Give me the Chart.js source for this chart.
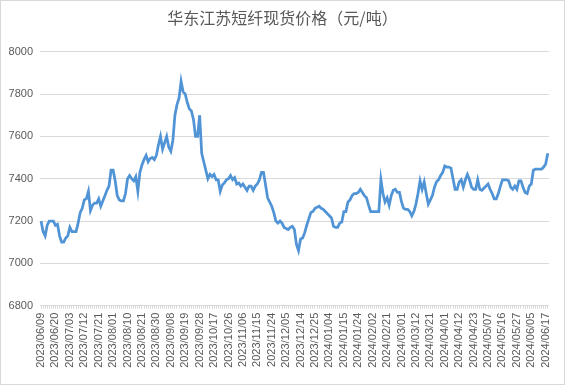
<!DOCTYPE html>
<html>
<head>
<meta charset="utf-8">
<script src="https://cdn.jsdelivr.net/npm/chart.js@4/dist/chart.umd.min.js"></script>
<style>
  html, body { margin: 0; padding: 0; background: #ffffff; }
  canvas { display: block; }
</style>
</head>
<body>
<canvas id="c" width="565" height="385"></canvas>
<script>
// Trading days (category labels)
const dates = [
  "2023/06/09","2023/06/12","2023/06/13","2023/06/14","2023/06/15","2023/06/16","2023/06/19","2023/06/20","2023/06/21","2023/06/26",
  "2023/06/27","2023/06/28","2023/06/29","2023/06/30","2023/07/03","2023/07/04","2023/07/05","2023/07/06","2023/07/07","2023/07/10",
  "2023/07/11","2023/07/12","2023/07/13","2023/07/14","2023/07/17","2023/07/18","2023/07/19","2023/07/20","2023/07/21","2023/07/24",
  "2023/07/25","2023/07/26","2023/07/27","2023/07/28","2023/07/31","2023/08/01","2023/08/02","2023/08/03","2023/08/04","2023/08/07",
  "2023/08/08","2023/08/09","2023/08/10","2023/08/11","2023/08/14","2023/08/15","2023/08/16","2023/08/17","2023/08/18","2023/08/21",
  "2023/08/22","2023/08/23","2023/08/24","2023/08/25","2023/08/28","2023/08/29","2023/08/30","2023/08/31","2023/09/01","2023/09/04",
  "2023/09/05","2023/09/06","2023/09/07","2023/09/08","2023/09/11","2023/09/12","2023/09/13","2023/09/14","2023/09/15","2023/09/18",
  "2023/09/19","2023/09/20","2023/09/21","2023/09/22","2023/09/25","2023/09/26","2023/09/27","2023/09/28","2023/10/09","2023/10/10",
  "2023/10/11","2023/10/12","2023/10/13","2023/10/16","2023/10/17","2023/10/18","2023/10/19","2023/10/20","2023/10/23","2023/10/24",
  "2023/10/25","2023/10/26","2023/10/27","2023/10/30","2023/10/31","2023/11/01","2023/11/02","2023/11/03","2023/11/06","2023/11/07",
  "2023/11/08","2023/11/09","2023/11/10","2023/11/13","2023/11/14","2023/11/15","2023/11/16","2023/11/17","2023/11/20","2023/11/21",
  "2023/11/22","2023/11/23","2023/11/24","2023/11/27","2023/11/28","2023/11/29","2023/11/30","2023/12/01","2023/12/04","2023/12/05",
  "2023/12/06","2023/12/07","2023/12/08","2023/12/11","2023/12/12","2023/12/13","2023/12/14","2023/12/15","2023/12/18","2023/12/19",
  "2023/12/20","2023/12/21","2023/12/22","2023/12/25","2023/12/26","2023/12/27","2023/12/28","2023/12/29","2024/01/02","2024/01/03",
  "2024/01/04","2024/01/05","2024/01/08","2024/01/09","2024/01/10","2024/01/11","2024/01/12","2024/01/15","2024/01/16","2024/01/17",
  "2024/01/18","2024/01/19","2024/01/22","2024/01/23","2024/01/24","2024/01/25","2024/01/26","2024/01/29","2024/01/30","2024/01/31",
  "2024/02/01","2024/02/02","2024/02/05","2024/02/06","2024/02/07","2024/02/08","2024/02/19","2024/02/20","2024/02/21","2024/02/22",
  "2024/02/23","2024/02/26","2024/02/27","2024/02/28","2024/02/29","2024/03/01","2024/03/04","2024/03/05","2024/03/06","2024/03/07",
  "2024/03/08","2024/03/11","2024/03/12","2024/03/13","2024/03/14","2024/03/15","2024/03/18","2024/03/19","2024/03/20","2024/03/21",
  "2024/03/22","2024/03/25","2024/03/26","2024/03/27","2024/03/28","2024/03/29","2024/04/01","2024/04/02","2024/04/03","2024/04/08",
  "2024/04/09","2024/04/10","2024/04/11","2024/04/12","2024/04/15","2024/04/16","2024/04/17","2024/04/18","2024/04/19","2024/04/22",
  "2024/04/23","2024/04/24","2024/04/25","2024/04/26","2024/04/29","2024/04/30","2024/05/06","2024/05/07","2024/05/08","2024/05/09",
  "2024/05/10","2024/05/13","2024/05/14","2024/05/15","2024/05/16","2024/05/17","2024/05/20","2024/05/21","2024/05/22","2024/05/23",
  "2024/05/24","2024/05/27","2024/05/28","2024/05/29","2024/05/30","2024/05/31","2024/06/03","2024/06/04","2024/06/05","2024/06/06",
  "2024/06/07","2024/06/11","2024/06/12","2024/06/13","2024/06/14","2024/06/17","2024/06/18"
];

// Spot price, yuan/ton
const prices = [
  7200,7150,7130,7180,7200,7200,7200,7180,7185,7130,
  7100,7100,7120,7130,7170,7150,7150,7150,7190,7240,
  7260,7300,7305,7340,7250,7275,7285,7285,7305,7270,
  7295,7320,7345,7365,7440,7440,7390,7320,7300,7295,
  7295,7330,7400,7415,7400,7390,7410,7340,7430,7465,
  7490,7510,7480,7495,7500,7490,7510,7560,7600,7540,
  7570,7600,7550,7530,7580,7700,7750,7780,7860,7810,
  7800,7760,7730,7720,7680,7600,7600,7700,7520,7480,
  7440,7400,7420,7410,7420,7395,7395,7340,7370,7380,
  7395,7400,7415,7395,7405,7375,7380,7365,7375,7360,
  7345,7365,7365,7345,7365,7375,7395,7430,7430,7370,
  7310,7290,7270,7240,7200,7190,7200,7190,7170,7165,
  7160,7170,7175,7160,7090,7060,7115,7120,7145,7180,
  7210,7240,7245,7260,7265,7270,7260,7255,7245,7235,
  7225,7215,7175,7170,7170,7190,7195,7245,7245,7290,
  7300,7320,7330,7330,7335,7350,7335,7320,7310,7275,
  7245,7245,7245,7245,7245,7395,7330,7290,7310,7275,
  7320,7345,7350,7335,7335,7290,7260,7255,7255,7245,
  7225,7245,7280,7330,7390,7350,7385,7330,7280,7300,
  7320,7360,7385,7395,7415,7430,7460,7455,7455,7450,
  7400,7350,7350,7385,7395,7360,7395,7420,7395,7360,
  7350,7350,7395,7350,7345,7355,7365,7375,7350,7330,
  7305,7305,7330,7365,7395,7395,7395,7390,7360,7350,
  7365,7350,7390,7390,7360,7335,7330,7365,7375,7440,
  7445,7445,7445,7445,7455,7470,7520
];

// Tick labels shown on the x axis
const xTickLabels = [
  "2023/06/09","2023/06/20","2023/07/03","2023/07/12","2023/07/21","2023/08/01","2023/08/10","2023/08/21","2023/08/30",
  "2023/09/08","2023/09/19","2023/09/28","2023/10/17","2023/10/26","2023/11/06","2023/11/15","2023/11/24","2023/12/05",
  "2023/12/14","2023/12/25","2024/01/04","2024/01/15","2024/01/24","2024/02/02","2024/02/21","2024/03/01","2024/03/12",
  "2024/03/21","2024/04/01","2024/04/12","2024/04/23","2024/05/07","2024/05/16","2024/05/27","2024/06/05","2024/06/17"
];
const yTicks = [6800, 7000, 7200, 7400, 7600, 7800, 8000];
const titleText = "华东江苏短纤现货价格（元/吨）";

const borderPlugin = {
  id: 'outerBorder',
  beforeDraw(chart) {
    const ctx = chart.ctx;
    ctx.save();
    ctx.fillStyle = '#ffffff';
    ctx.fillRect(0, 0, chart.width, chart.height);
    ctx.restore();
  },
  afterDraw(chart) {
    const ctx = chart.ctx;
    ctx.save();
    ctx.strokeStyle = '#d9d9d9';
    ctx.lineWidth = 1;
    ctx.strokeRect(0.5, 0.5, chart.width - 1, chart.height - 1);
    ctx.restore();
  }
};

new Chart(document.getElementById('c'), {
  type: 'line',
  data: {
    labels: dates,
    datasets: [{
      data: prices,
      borderColor: '#5094d6',
      borderWidth: 2.75,
      pointRadius: 0,
      tension: 0,
      fill: false
    }]
  },
  options: {
    responsive: false,
    animation: false,
    devicePixelRatio: 1,
    layout: { padding: { left: 2, right: 2, top: 0, bottom: 0 } },
    plugins: {
      legend: { display: false },
      tooltip: { enabled: false },
      title: {
        display: true,
        text: titleText,
        color: '#595959',
        font: { family: '"Noto Sans CJK SC", sans-serif', size: 16, weight: 'normal' },
        padding: { top: 8, bottom: 24.5 }
      }
    },
    scales: {
      x: {
        type: 'category',
        offset: true,
        border: { display: true, color: '#d9d9d9', width: 1 },
        grid: { display: true, drawOnChartArea: false, drawTicks: true, tickLength: 3, color: '#d9d9d9' },
        ticks: {
          autoSkip: false,
          maxRotation: 90,
          minRotation: 90,
          padding: 4,
          color: '#595959',
          font: { family: '"Liberation Sans", Arial, sans-serif', size: 11 },
          callback: function(value, index) {
            const lab = this.getLabelForValue(value);
            return xTickLabels.includes(lab) ? lab : '';
          }
        },
        afterFit(scale) { scale.height = 79.3; }
      },
      y: {
        min: 6800,
        max: 8000,
        border: { display: false },
        grid: { color: '#d9d9d9', lineWidth: 1, drawTicks: false },
        afterBuildTicks(scale) { scale.ticks = yTicks.map(v => ({ value: v })); },
        ticks: {
          padding: 7,
          color: '#595959',
          font: { family: '"Liberation Sans", Arial, sans-serif', size: 11 },
          callback: (v) => String(v)
        },
        afterFit(scale) { scale.width = 38; }
      },
      yRight: {
        position: 'right',
        min: 6800,
        max: 8000,
        border: { display: false },
        grid: { display: false, drawTicks: false },
        ticks: { display: false },
        afterFit(scale) { scale.width = 13; }
      }
    }
  },
  plugins: [borderPlugin]
});
</script>
</body>
</html>
